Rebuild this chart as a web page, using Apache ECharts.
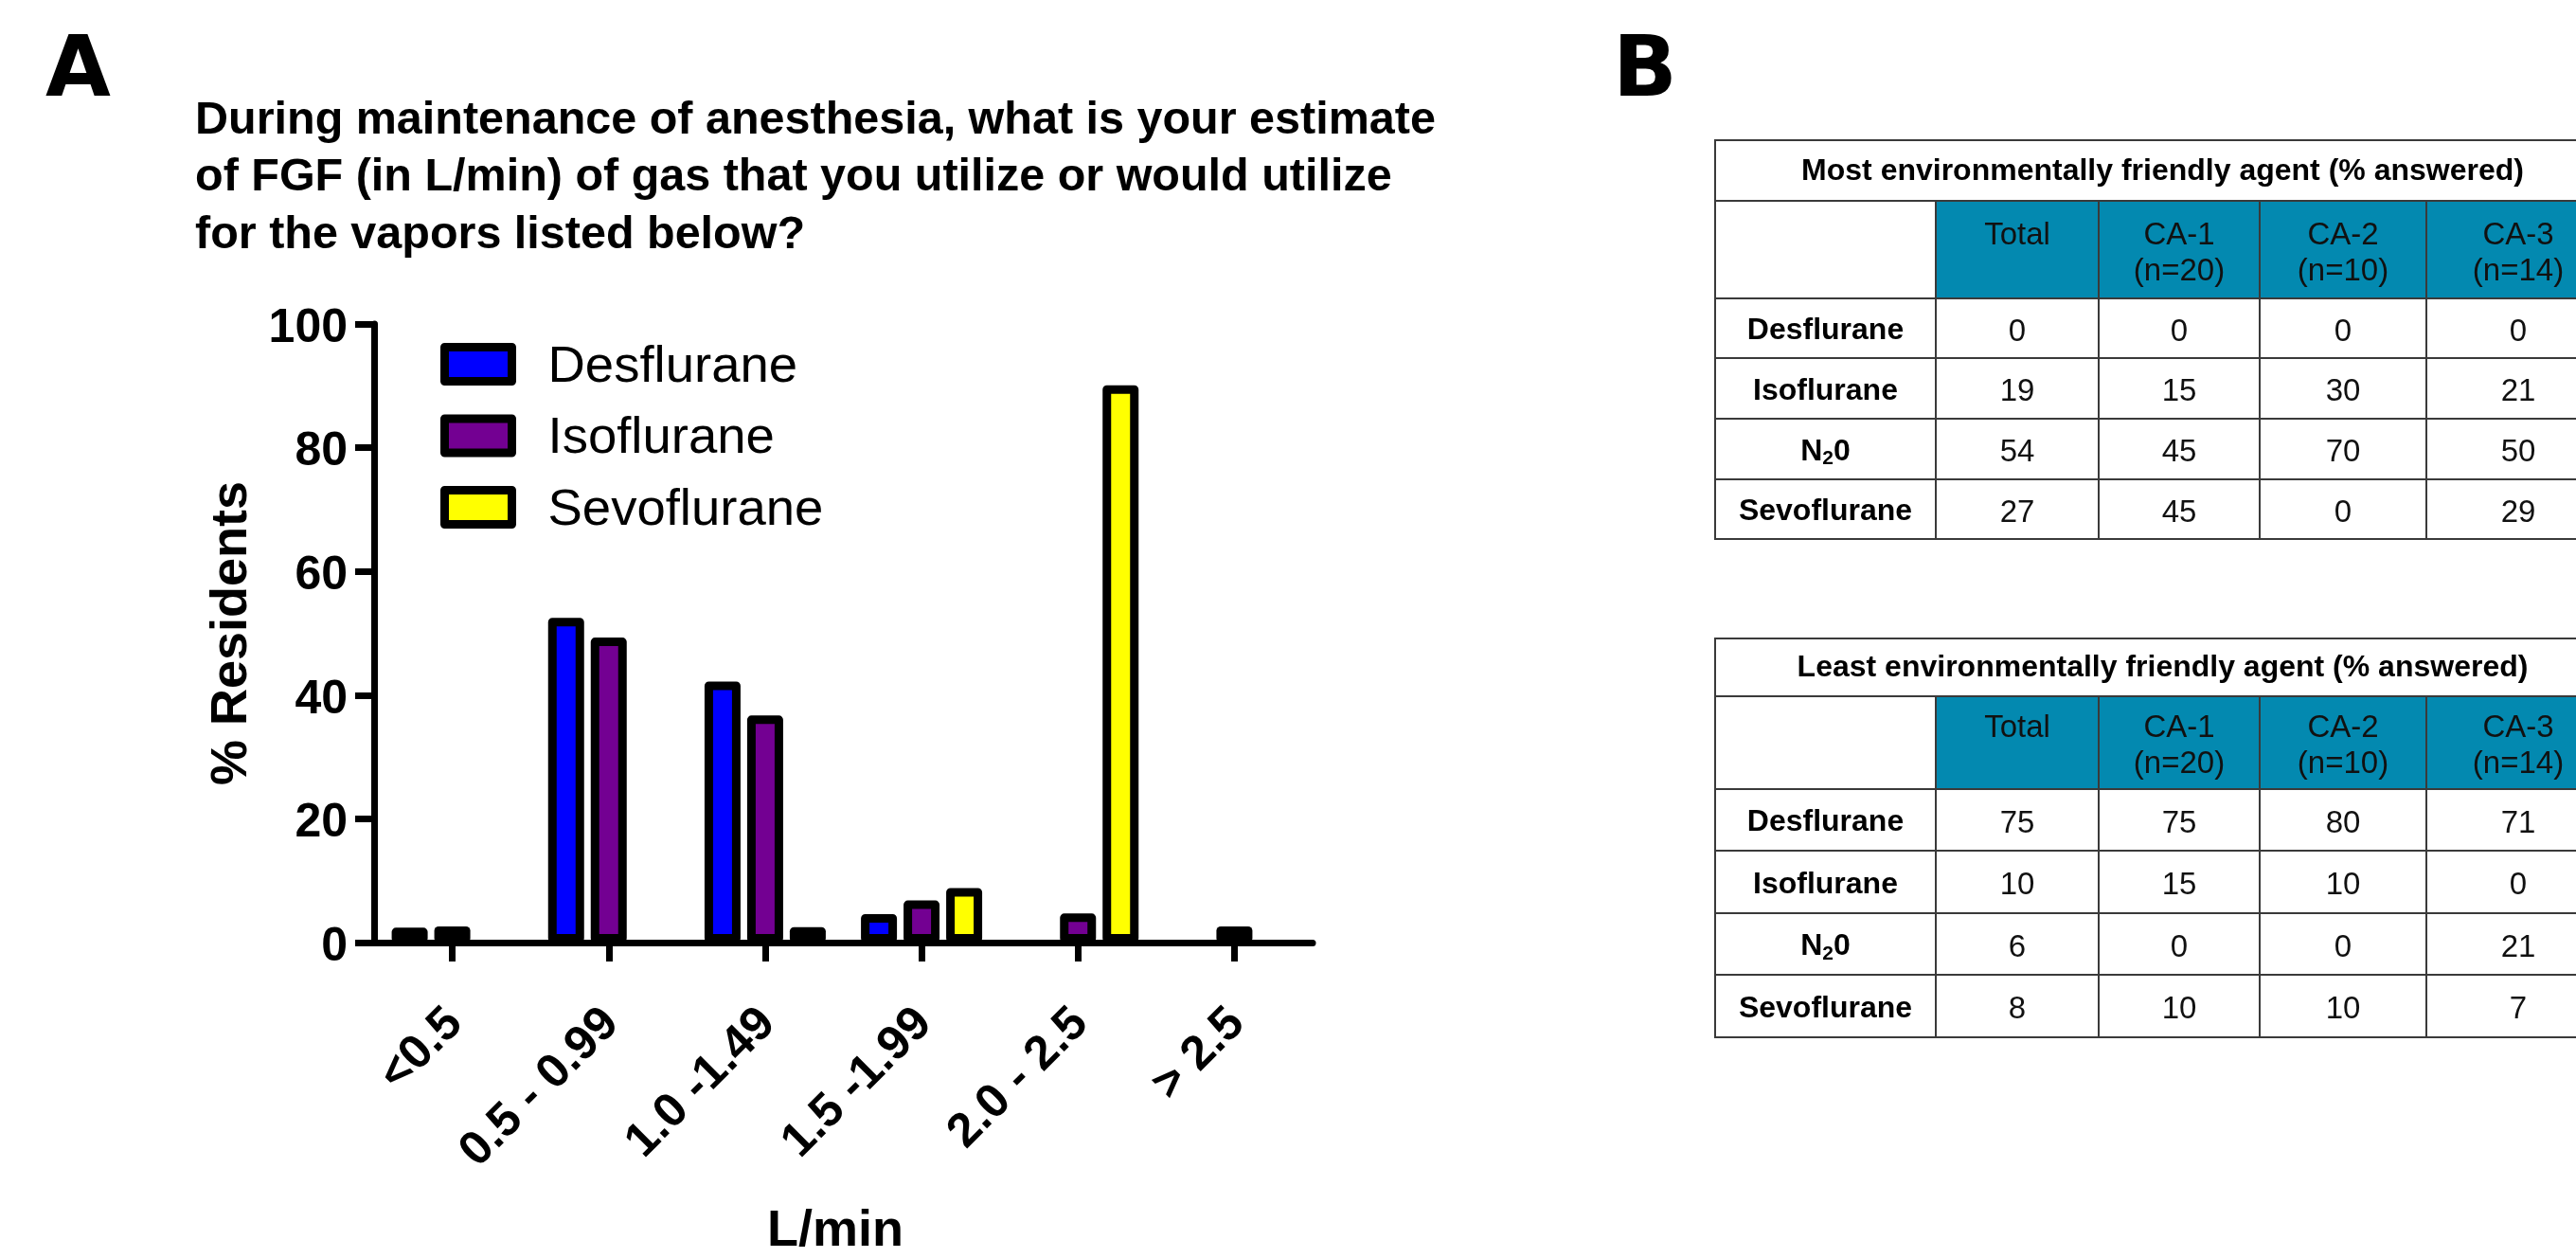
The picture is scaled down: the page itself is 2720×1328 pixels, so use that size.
<!DOCTYPE html>
<html>
<head>
<meta charset="utf-8">
<script src="https://cdn.jsdelivr.net/npm/echarts@6/dist/echarts.min.js"></script>
<style>
  html, body { margin: 0; padding: 0; background: #ffffff; }
  #chart { width: 2720px; height: 1328px; }
</style>
</head>
<body>
<div id="chart"></div>
<script>
// ---------------- data ----------------
const categories = ['<0.5', '0.5 - 0.99', '1.0 -1.49', '1.5 -1.99', '2.0 - 2.5', '> 2.5'];
const desflurane = [2.4, 52.5, 42.2, 4.6, 0, 0];
const isoflurane = [2.6, 49.3, 36.7, 6.8, 4.7, 2.6];
const sevoflurane = [0, 0, 2.5, 8.8, 90.1, 0];
const seriesNames = ['Desflurane', 'Isoflurane', 'Sevoflurane'];
const yTickMin = 0, yTickMax = 100, yTickStep = 20;

const questionLines = [
  'During maintenance of anesthesia, what is your estimate',
  'of FGF (in L/min) of gas that you utilize or would utilize',
  'for the vapors listed below?'
];

const tableRowLabels = ['Desflurane', 'Isoflurane', 'N₂0', 'Sevoflurane'];
const tableColLabels = ['Total', 'CA-1\n(n=20)', 'CA-2\n(n=10)', 'CA-3\n(n=14)'];
const mostTitle = 'Most environmentally friendly agent (% answered)';
const mostValues = [
  [0, 0, 0, 0],
  [19, 15, 30, 21],
  [54, 45, 70, 50],
  [27, 45, 0, 29]
];
const leastTitle = 'Least environmentally friendly agent (% answered)';
const leastValues = [
  [75, 75, 80, 71],
  [10, 15, 10, 0],
  [6, 0, 0, 21],
  [8, 10, 10, 7]
];

// ---------------- layout / style ----------------
const FONT = "'Liberation Sans', Arial, Helvetica, sans-serif";
const PANEL_FONT = "'DejaVu Sans', 'Liberation Sans', Arial, sans-serif";
const colors = ['#0000FF', '#730092', '#FFFF00'];
const TEAL = '#0389B0';
const LINE = '#3a3a3a';
// table cell edges, in axis units of each table grid (1 unit = 1 px)
const colEdges = [0, 233, 405, 575, 751, 945];
const rowEdges1 = [0, 64, 167, 230, 294, 358, 421];
const rowEdges2 = [0, 61, 159, 224, 290, 355, 421];
const TABLE_VISIBLE_W = 909; // the table runs past the right edge of the picture

const chart = echarts.init(document.getElementById('chart'), null, { renderer: 'canvas' });

function nz(arr) { return arr.map(v => (v === 0 ? null : v)); }

function tableSeries(idx, title, values, rowEdges) {
  const cells = [];
  cells.push({ value: [0, 0], kind: 'title', text: title });
  cells.push({ value: [0, 1], kind: 'blank', text: '' });
  tableColLabels.forEach((h, c) => cells.push({ value: [c + 1, 1], kind: 'head', text: h }));
  tableRowLabels.forEach((r, i) => {
    cells.push({ value: [0, i + 2], kind: 'row', text: r });
    values[i].forEach((v, c) => cells.push({ value: [c + 1, i + 2], kind: 'num', text: String(v) }));
  });
  return {
    type: 'custom',
    xAxisIndex: idx,
    yAxisIndex: idx,
    silent: true,
    animation: false,
    clip: false,
    data: cells,
    renderItem: function (params, api) {
      const d = cells[params.dataIndex];
      const c = d.value[0], r = d.value[1];
      const c1 = d.kind === 'title' ? colEdges.length - 1 : c + 1;
      const p0 = api.coord([colEdges[c], rowEdges[r]]);
      const p1 = api.coord([colEdges[c1], rowEdges[r + 1]]);
      const x = p0[0], y = p0[1], w = p1[0] - p0[0], h = p1[1] - p0[1];
      const children = [{
        type: 'rect',
        shape: { x: x, y: y, width: w, height: h },
        style: { fill: d.kind === 'head' ? TEAL : '#ffffff', stroke: LINE, lineWidth: 2 }
      }];
      const cx = x + w / 2, cy = y + h / 2;
      if (d.kind === 'title') {
        children.push({ type: 'text', style: { text: d.text, x: cx, y: cy + 1, align: 'center', verticalAlign: 'middle',
          fontSize: 32, fontWeight: 'bold', fontFamily: FONT, fill: '#000' } });
      } else if (d.kind === 'head') {
        children.push({ type: 'text', style: { text: d.text, x: cx, y: cy - 34, align: 'center', verticalAlign: 'top',
          fontSize: 33, lineHeight: 38, fontFamily: FONT, fill: '#111' } });
      } else if (d.kind === 'row') {
        const parts = d.text.split('₂');
        const txt = parts.length > 1 ? '{b|' + parts[0] + '}{s|2}{b|' + parts[1] + '}' : '{b|' + d.text + '}';
        children.push({ type: 'text', style: { text: txt, x: cx, y: cy + 3,
          align: 'center', verticalAlign: 'middle',
          rich: {
            b: { fontSize: 32, fontWeight: 'bold', fontFamily: FONT, fill: '#000', lineHeight: 36 },
            s: { fontSize: 21, fontWeight: 'bold', fontFamily: FONT, fill: '#000', lineHeight: 36, verticalAlign: 'bottom' }
          } } });
      } else if (d.kind === 'num') {
        children.push({ type: 'text', style: { text: d.text, x: cx, y: cy + 4, align: 'center', verticalAlign: 'middle',
          fontSize: 33, fontFamily: FONT, fill: '#111' } });
      }
      return { type: 'group', children: children };
    }
  };
}

const barCommon = {
  type: 'bar',
  barWidth: 38,
  barGap: '18.4%',
  animation: false,
  xAxisIndex: 0,
  yAxisIndex: 0,
  z: 3
};

const hiddenAxis = (max, inverse) => ({
  type: 'value', min: 0, max: max, inverse: !!inverse, show: false
});

const option = {
  backgroundColor: '#ffffff',
  animation: false,
  title: [
    { text: 'A', left: 48, top: 33, padding: 0,
      textStyle: { fontSize: 89, fontWeight: 'bold', fontFamily: PANEL_FONT, color: '#000', lineHeight: 89 } },
    { text: 'B', left: 1703, top: 33, padding: 0,
      textStyle: { fontSize: 89, fontWeight: 'bold', fontFamily: PANEL_FONT, color: '#000', lineHeight: 89 } },
    { text: questionLines.join('\n'), left: 206, top: 97, padding: 0,
      textStyle: { fontSize: 48.5, fontWeight: 'bold', fontFamily: FONT, color: '#000', lineHeight: 60.5 } }
  ],
  legend: {
    data: seriesNames,
    orient: 'vertical',
    left: 465,
    top: 354,
    padding: 0,
    itemGap: 14.5,
    itemWidth: 71,
    itemHeight: 36,
    icon: 'rect',
    selectedMode: false,
    itemStyle: { borderWidth: 9, borderColor: '#000' },
    formatter: '{t|{name}}',
    textStyle: {
      fontSize: 54.5, fontFamily: FONT, color: '#000',
      rich: { t: { fontSize: 54.5, fontFamily: FONT, color: '#000', lineHeight: 36, padding: [6, 0, 0, 33] } }
    }
  },
  grid: [
    { left: 395, top: 342, width: 991, height: 661, containLabel: false },
    { left: 1811, top: 148, width: TABLE_VISIBLE_W, height: 421, containLabel: false },
    { left: 1811, top: 674, width: TABLE_VISIBLE_W, height: 421, containLabel: false }
  ],
  xAxis: [
    {
      type: 'category',
      gridIndex: 0,
      data: categories,
      boundaryGap: true,
      axisLine: { show: true, lineStyle: { color: '#000', width: 7 } },
      axisTick: { show: true, alignWithLabel: true, length: 20, lineStyle: { color: '#000', width: 7 } },
      axisLabel: {
        interval: 0, rotate: 45, margin: 75,
        formatter: '{v|{value}}',
        fontSize: 50.5, fontWeight: 'bold', fontFamily: FONT, color: '#000',
        rich: { v: { fontSize: 50.5, fontWeight: 'bold', fontFamily: FONT, color: '#000', padding: [8, 0, 0, 0] } }
      },
      name: 'L/min',
      nameLocation: 'middle',
      nameGap: 274,
      nameTextStyle: { fontSize: 54, fontWeight: 'bold', fontFamily: FONT, color: '#000', padding: [4, 17, 0, 0] }
    },
    Object.assign({ gridIndex: 1 }, hiddenAxis(TABLE_VISIBLE_W)),
    Object.assign({ gridIndex: 2 }, hiddenAxis(TABLE_VISIBLE_W))
  ],
  yAxis: [
    {
      type: 'value',
      gridIndex: 0,
      min: yTickMin,
      max: yTickMax,
      interval: yTickStep,
      splitLine: { show: false },
      axisLine: { show: true, lineStyle: { color: '#000', width: 7 } },
      axisTick: { show: true, length: 20, lineStyle: { color: '#000', width: 7 } },
      axisLabel: {
        margin: 28,
        formatter: '{v|{value}}',
        fontSize: 50, fontWeight: 'bold', fontFamily: FONT, color: '#000',
        rich: { v: { fontSize: 50, fontWeight: 'bold', fontFamily: FONT, color: '#000', padding: [10, 0, 0, 0] } }
      },
      name: '% Residents',
      nameLocation: 'middle',
      nameGap: 123,
      nameRotate: 90,
      nameTextStyle: { fontSize: 54, fontWeight: 'bold', fontFamily: FONT, color: '#000' }
    },
    Object.assign({ gridIndex: 1 }, hiddenAxis(421, true)),
    Object.assign({ gridIndex: 2 }, hiddenAxis(421, true))
  ],
  series: [
    Object.assign({}, barCommon, { name: seriesNames[0], data: nz(desflurane),
      itemStyle: { color: colors[0], borderColor: '#000', borderWidth: 9, borderJoin: 'round' } }),
    Object.assign({}, barCommon, { name: seriesNames[1], data: nz(isoflurane),
      itemStyle: { color: colors[1], borderColor: '#000', borderWidth: 9, borderJoin: 'round' } }),
    Object.assign({}, barCommon, { name: seriesNames[2], data: nz(sevoflurane),
      itemStyle: { color: colors[2], borderColor: '#000', borderWidth: 9, borderJoin: 'round' } }),
    tableSeries(1, mostTitle, mostValues, rowEdges1),
    tableSeries(2, leastTitle, leastValues, rowEdges2)
  ]
};

chart.setOption(option);
</script>
</body>
</html>
